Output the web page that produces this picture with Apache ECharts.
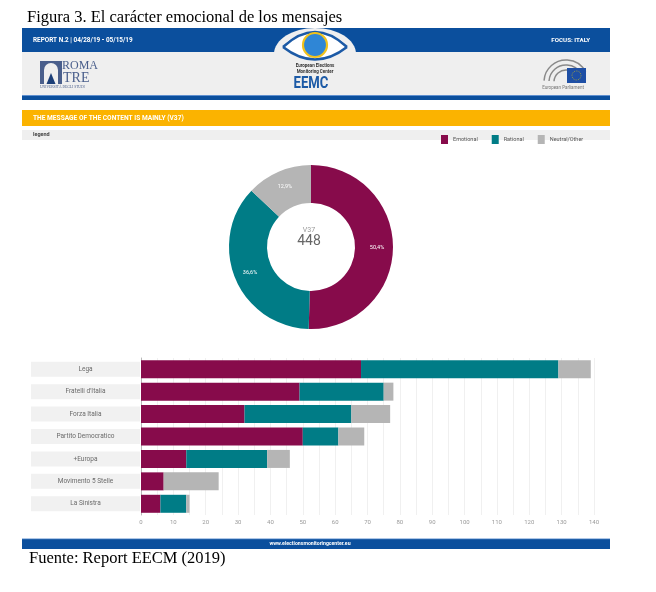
<!DOCTYPE html>
<html>
<head>
<meta charset="utf-8">
<script src="https://cdn.jsdelivr.net/npm/echarts@6/dist/echarts.min.js"></script>
<style>
html,body{margin:0;padding:0;background:#fff;}
#c{width:656px;height:592px;}
</style>
</head>
<body>
<div id="c"></div>
<script>
// ---- data ----
const categories = ['Lega', "Fratelli d'Italia", 'Forza Italia', 'Partito Democratico', '+Europa', 'Movimento 5 Stelle', 'La Sinistra'];
const emotional = [68, 49, 32, 50, 14, 7, 6];
const rational  = [61, 26, 33, 11, 25, 0, 8];
const neutral   = [10, 3, 12, 8, 7, 17, 1];
const seriesNames = ['Emotional', 'Rational', 'Neutral/Other'];
const xMin = 0, xMax = 140, xStep = 10;
const figTitle = 'Figura 3. El carácter emocional de los mensajes';
const sourceText = 'Fuente: Report EECM (2019)';
const variableName = 'V37';

const sum = a => a.reduce((s, v) => s + v, 0);
const totals = [sum(emotional), sum(rational), sum(neutral)];
const grand = sum(totals);

const C_EMO = '#870b4b', C_RAT = '#007c86', C_NEU = '#b5b5b5';
const BLUE = '#0b4f9d';
const F = 'Roboto, "Noto Sans", sans-serif';

const chart = echarts.init(document.getElementById('c'), null, {renderer: 'canvas'});

function txt(x, y, text, font, fill, align, extra) {
  return Object.assign({type: 'text', x: x, y: y, style: {text: text, font: font, fill: fill, align: align || 'left', verticalAlign: 'middle'}}, extra || {});
}

const graphic = [
  // page title
  txt(27, 18, figTitle, '16.5px "Liberation Serif", serif', '#000'),
  // top blue band
  {type:'rect', z:-10, shape:{x:22, y:28, width:588, height:24}, style:{fill:BLUE}},
  txt(33, 40, 'REPORT N.2 | 04/28/19 - 05/15/19', 'bold 6.4px ' + F, '#fff'),
  txt(590, 40, 'FOCUS: ITALY', 'bold 6.2px ' + F, '#fff', 'right'),
  // grey logo band
  {type:'rect', z:-10, shape:{x:22, y:52, width:588, height:44}, style:{fill:'#efefef'}},
  {type:'rect', z:-10, shape:{x:22, y:95, width:588, height:1}, style:{fill:'#5f8fcf'}},
  {type:'rect', z:-10, shape:{x:22, y:96, width:588, height:4}, style:{fill:BLUE}},
  // EEMC hump + eye
  {type:'ellipse', z:-9, shape:{cx:315, cy:54, rx:41, ry:26}, style:{fill:'#efefef'}},
  {type:'ellipse', z:-8, shape:{cx:315, cy:46, rx:30, ry:12}, style:{fill:'#fff'}},
  {type:'bezierCurve', z:-7, shape:{x1:283, y1:47, x2:347, y2:47, cpx1:315, cpy1:17}, style:{fill:'none', stroke:'#1c5aa6', lineWidth:2.5}},
  {type:'bezierCurve', z:-7, shape:{x1:283, y1:47, x2:347, y2:47, cpx1:315, cpy1:72}, style:{fill:'none', stroke:'#1c5aa6', lineWidth:2.5}},
  {type:'circle', z:-6, shape:{cx:315, cy:45, r:12}, style:{fill:'#2f86d6', stroke:'#f1c21b', lineWidth:2.2}},
  txt(315, 66, 'European Elections', 'bold 4.5px ' + F, '#333', 'center'),
  txt(315, 71.5, 'Monitoring Center', 'bold 4.5px ' + F, '#333', 'center'),
  txt(0, 0, 'EEMC', 'bold 16px ' + F, '#1c5aa6', 'center', {x: 311, y: 84, scaleX: 0.82}),
  // Roma Tre logo
  {type:'rect', z:-6, shape:{x:40, y:61, width:22, height:23}, style:{fill:'#4a5f8c'}},
  {type:'rect', z:-5, shape:{x:44, y:70, width:14, height:14}, style:{fill:'#efefef'}},
  {type:'circle', z:-5, shape:{cx:51, cy:70, r:7}, style:{fill:'#efefef'}},
  {type:'polygon', z:-4, shape:{points:[[46.5,84],[51,73],[55.5,84]]}, style:{fill:'#1c3f78'}},
  txt(62, 66, 'ROMA', '12px "Liberation Serif", serif', '#4a5f8c'),
  txt(63, 78.5, 'TRE', '14px "Liberation Serif", serif', '#4a5f8c'),
  txt(40, 87, 'UNIVERSITÀ DEGLI STUDI', '3.6px "Liberation Serif", serif', '#4a5f8c'),
  // European Parliament logo
  {type:'arc', z:-6, shape:{cx:566, cy:82, r:22, startAngle:Math.PI*1.02, endAngle:Math.PI*1.85}, style:{fill:'none', stroke:'#8a8a8a', lineWidth:1.5}},
  {type:'arc', z:-6, shape:{cx:566, cy:82, r:17, startAngle:Math.PI*1.02, endAngle:Math.PI*1.85}, style:{fill:'none', stroke:'#8a8a8a', lineWidth:1.5}},
  {type:'arc', z:-6, shape:{cx:566, cy:82, r:12, startAngle:Math.PI*1.02, endAngle:Math.PI*1.85}, style:{fill:'none', stroke:'#8a8a8a', lineWidth:1.5}},
  {type:'rect', z:-5, shape:{x:567, y:68, width:19, height:15}, style:{fill:'#1e4fa5'}},
  {type:'circle', z:-4, shape:{cx:576.5, cy:75.5, r:4.5}, style:{fill:'none', stroke:'#f4d000', lineWidth:0.8, lineDash:[0.8,1.5]}},
  txt(563, 87.5, 'European Parliament', '4.5px ' + F, '#777', 'center'),
  // orange title band
  {type:'rect', z:-10, shape:{x:22, y:110, width:588, height:16}, style:{fill:'#fbb300'}},
  txt(33, 118, 'THE MESSAGE OF THE CONTENT IS MAINLY (' + variableName + ')', 'bold 6.6px ' + F, '#fff'),
  // legend strip
  {type:'rect', z:-10, shape:{x:22, y:130, width:588, height:10}, style:{fill:'#efefef'}},
  txt(33, 135, 'legend', 'bold 5.5px ' + F, '#444'),
  // donut center
  txt(309, 230, variableName, '7px ' + F, '#999', 'center'),
  txt(309, 241, String(grand), '14px ' + F, '#666', 'center'),
  // footer
  {type:'rect', z:-10, shape:{x:22, y:539, width:588, height:10}, style:{fill:BLUE}},
  {type:'rect', z:-9, shape:{x:22, y:538.5, width:588, height:0.8}, style:{fill:'#5f8fcf'}},
  txt(310, 543.5, 'www.electionsmonitoringcenter.eu', 'bold 5.2px ' + F, '#fff', 'center'),
  txt(29, 559, sourceText, '16.5px "Liberation Serif", serif', '#000')
];

const option = {
  animation: false,
  backgroundColor: '#fff',
  textStyle: {fontFamily: F},
  graphic: graphic,
  legend: {
    data: seriesNames,
    left: 436, top: 130,
    itemWidth: 7, itemHeight: 9, itemGap: 14,
    icon: 'rect',
    selectedMode: false,
    textStyle: {fontSize: 5.5, color: '#555'}
  },
  grid: {left: 141, right: 62, top: 358, bottom: 77, containLabel: false},
  xAxis: {
    type: 'value', min: xMin, max: xMax, interval: xStep,
    axisLine: {show: false}, axisTick: {show: false},
    axisLabel: {fontSize: 6, color: '#9a9a9a', margin: 4},
    splitLine: {show: true, lineStyle: {color: '#ececec', width: 0.8}},
    minorTick: {show: false, splitNumber: 2},
    minorSplitLine: {show: true, lineStyle: {color: '#ececec', width: 0.8}}
  },
  yAxis: {
    type: 'category', data: categories, inverse: true,
    axisLine: {show: true, lineStyle: {color: '#b8b8b8', width: 1}},
    axisTick: {show: false},
    axisLabel: {
      margin: 1,
      formatter: v => '{b|' + v + '}',
      rich: {b: {width: 109, height: 15, lineHeight: 15, align: 'center', backgroundColor: '#f1f1f1', color: '#6a6a6a', fontSize: 6.5}}
    }
  },
  series: [
    {name: seriesNames[0], type: 'bar', stack: 's', data: emotional, barWidth: 18, itemStyle: {color: C_EMO}},
    {name: seriesNames[1], type: 'bar', stack: 's', data: rational, barWidth: 18, itemStyle: {color: C_RAT}},
    {name: seriesNames[2], type: 'bar', stack: 's', data: neutral, barWidth: 18, itemStyle: {color: C_NEU}},
    {
      type: 'pie', center: [311, 247], radius: [44, 82], startAngle: 90, clockwise: true,
      silent: true,
      label: {
        show: true, position: 'inside', color: '#fff', fontSize: 5.5,
        formatter: p => (p.value / grand * 100).toFixed(1).replace('.', ',') + '%'
      },
      labelLine: {show: false},
      data: seriesNames.map((n, i) => ({name: n, value: totals[i], itemStyle: {color: [C_EMO, C_RAT, C_NEU][i]}}))
    }
  ]
};
chart.setOption(option);
</script>
</body>
</html>
